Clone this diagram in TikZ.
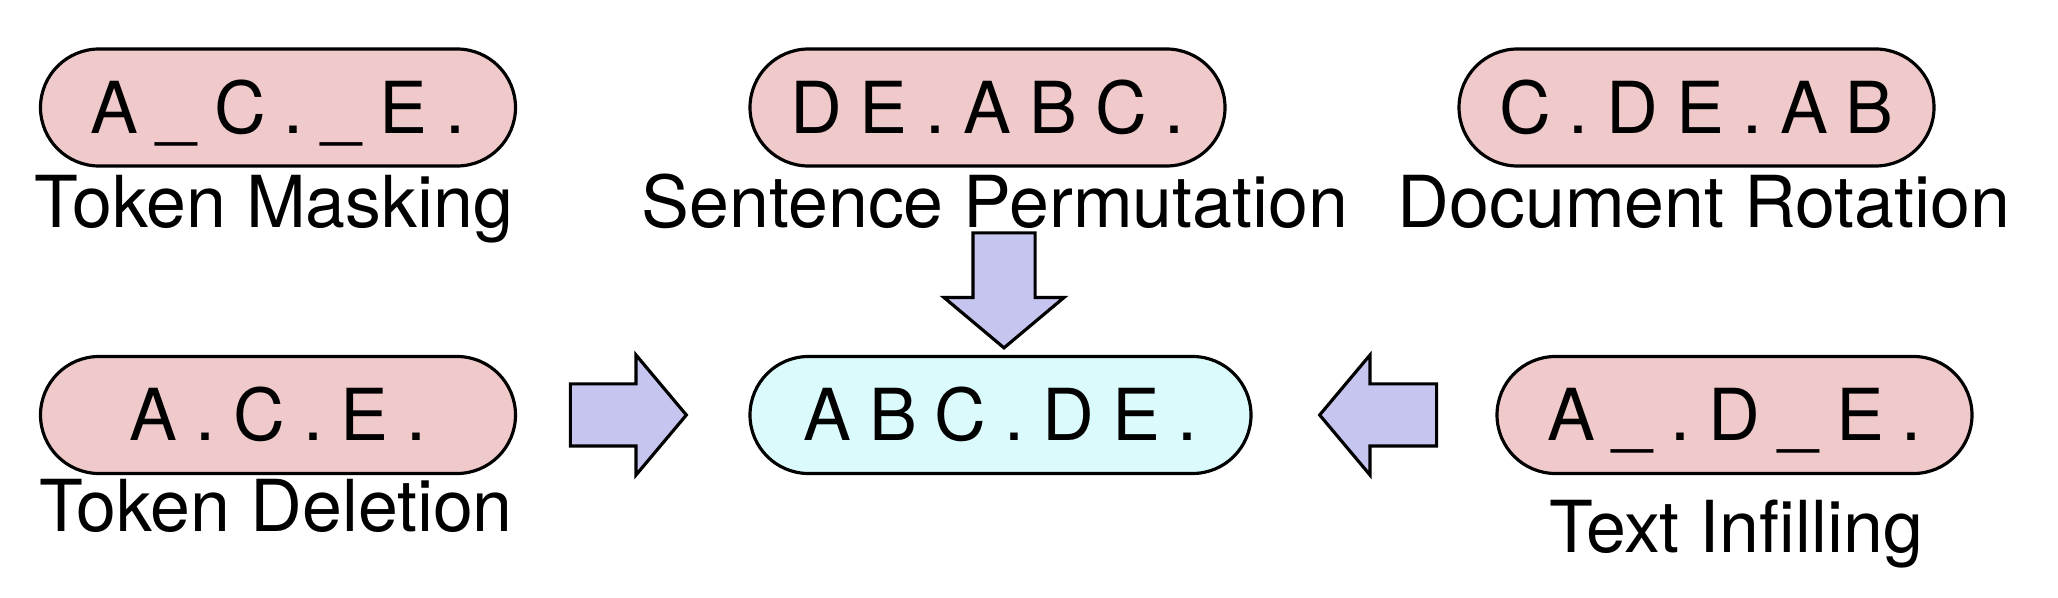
\documentclass[tikz,border=0pt]{standalone}
\usepackage{fontspec}
\setmainfont{TeX Gyre Heros}
\newfontfamily\pillfont[LetterSpace=25]{TeX Gyre Heros}
\usetikzlibrary{calc,shapes.misc,shapes.arrows}
\definecolor{pillpink}{RGB}{240,202,202}
\definecolor{pillcyan}{RGB}{218,250,252}
\definecolor{arrowblue}{RGB}{197,197,240}
\tikzset{
  pill/.style={rounded rectangle, draw=black, line width=0.9pt, fill=pillpink,
    minimum width=4.75cm, minimum height=1.17cm, inner sep=0pt,
    text height=0.52cm, text depth=0pt, font=\pillfont\fontsize{20.4}{24}\selectfont},
  caption/.style={anchor=base, inner sep=0pt, font=\fontsize{20.4}{24}\selectfont},
  blockarrow/.style={single arrow, draw=black, line width=0.9pt, fill=arrowblue,
    inner xsep=0pt, inner ysep=0.295cm, minimum height=1.16cm, anchor=tip,
    single arrow head extend=0.29cm, single arrow tip angle=100}
}

\begin{document}
\begin{tikzpicture}
    \useasboundingbox (0,0) rectangle (20.58,-5.98);
    % Noised documents, top row
    \node[pill] (TM) at (2.78,-1.075)   {A\_C.\_E.};
    \node[pill] (SP) at (9.875,-1.075)  {DE.ABC.};
    \node[pill] (DR) at (16.965,-1.075) {C.DE.AB};
    \node[caption] (TMlab) at (2.74,-2.28)  {Token Masking};
    \node[caption] (SPlab) at (9.95,-2.28)  {Sentence Permutation};
    \node[caption] (DRlab) at (17.04,-2.28) {Document Rotation};
    % Original document and its neighbours
    \node[pill, fill=pillcyan, minimum width=5.01cm] (C) at (10.005,-4.15) {ABC.DE.};
    \node[pill] (TD) at (2.78,-4.15)   {A.C.E.};
    \node[pill] (TI) at (17.345,-4.15) {A\_.D\_E.};
    \node[caption] (TDlab) at (2.76,-5.32)  {Token Deletion};
    \node[caption] (TIlab) at (17.36,-5.52) {Text Infilling};
    % Block arrows into the original
    \node[blockarrow, rotate=-90, minimum height=1.15cm] (arrSP) at ($(C.north)+(0.035,0.05)$) {};
    \node[blockarrow] (arrTD) at ($(C.west)+(-0.6,0)$) {};
    \node[blockarrow, rotate=180, minimum height=1.17cm] (arrTI) at ($(C.east)+(0.65,0)$) {};
\end{tikzpicture}
\end{document}
